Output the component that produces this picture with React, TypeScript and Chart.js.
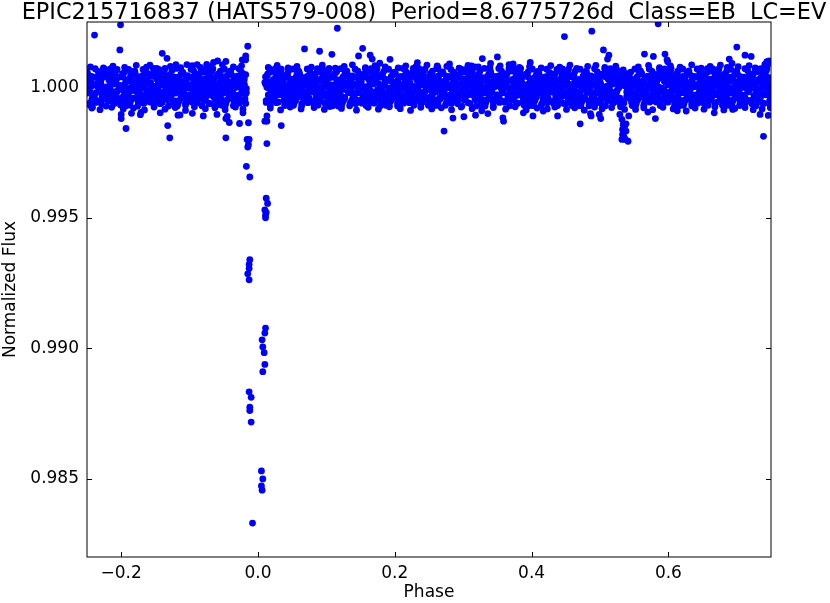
import React, { useEffect, useRef } from "react";
import { Chart, registerables } from "chart.js";

Chart.register(...registerables);

// Units: phase values are stored in thousandths of phase,
// flux values are stored as offsets from 1.0 in units of 1e-5.
const PHASE_UNIT = 0.001;
const FLUX_UNIT = 0.00001;

const titleText = "EPIC215716837 (HATS579-008)  Period=8.6775726d  Class=EB  LC=EV";
const xLabel = "Phase";
const yLabel = "Normalized Flux";
const xRange = [-0.25, 0.75];
const yRange = [0.982, 1.0025];
const xTicks = [-0.2, 0.0, 0.2, 0.4, 0.6];
const xTickLabels = ["\u22120.2", "0.0", "0.2", "0.4", "0.6"];
const yTicks = [0.985, 0.99, 0.995, 1.0];
const yTickLabels = ["0.985", "0.990", "0.995", "1.000"];

// Out-of-eclipse baseline band (first layer)
const bandPhase = [
  -250,-249,-247,-246,-244,-243,-241,
  -240,-238,-237,-235,-234,-232,-231,
  -230,-229,-227,-226,-224,-223,-221,
  -220,-218,-217,-215,-214,-212,-211,
  -210,-209,-207,-206,-204,-203,-201,
  -200,-198,-197,-195,-194,-192,-191,
  -190,-189,-187,-186,-184,-183,-181,
  -180,-178,-177,-175,-174,-172,-171,
  -170,-169,-167,-166,-164,-163,-161,
  -160,-158,-157,-155,-154,-152,-151,
  -150,-149,-147,-146,-144,-143,-141,
  -140,-138,-137,-135,-134,-132,-131,
  -130,-129,-127,-126,-124,-123,-121,
  -120,-118,-117,-115,-114,-112,-111,
  -110,-109,-107,-106,-104,-103,-101,
  -100,-98,-97,-95,-94,-92,-91,
  -90,-89,-87,-86,-84,-83,-81,
  -80,-78,-77,-75,-74,-72,-71,
  -70,-69,-67,-66,-64,-63,-61,
  -60,-58,-57,-55,-54,-52,-51,
  -50,-49,-47,-46,-44,-43,-41,
  -40,-38,-37,-35,-34,-32,-31,
  -30,-29,-27,-26,-24,-23,-21,
  -20,-19,-18,-17,
  10,12,13,15,16,18,19,
  20,21,23,24,26,27,29,
  30,32,33,35,36,38,39,
  40,41,43,44,46,47,49,
  50,52,53,55,56,58,59,
  60,61,63,64,66,67,69,
  70,72,73,75,76,78,79,
  80,81,83,84,86,87,89,
  90,92,93,95,96,98,99,
  100,101,103,104,106,107,109,
  110,112,113,115,116,118,119,
  120,121,123,124,126,127,129,
  130,132,133,135,136,138,139,
  140,141,143,144,146,147,149,
  150,152,153,155,156,158,159,
  160,161,163,164,166,167,169,
  170,172,173,175,176,178,179,
  180,181,183,184,186,187,189,
  190,192,193,195,196,198,199,
  200,201,203,204,206,207,209,
  210,212,213,215,216,218,219,
  220,221,223,224,226,227,229,
  230,232,233,235,236,238,239,
  240,241,243,244,246,247,249,
  250,252,253,255,256,258,259,
  260,261,263,264,266,267,269,
  270,272,273,275,276,278,279,
  280,281,283,284,286,287,289,
  290,292,293,295,296,298,299,
  300,301,303,304,306,307,309,
  310,312,313,315,316,318,319,
  320,321,323,324,326,327,329,
  330,332,333,335,336,338,339,
  340,341,343,344,346,347,349,
  350,352,353,355,356,358,359,
  360,361,363,364,366,367,369,
  370,372,373,375,376,378,379,
  380,381,383,384,386,387,389,
  390,392,393,395,396,398,399,
  400,401,403,404,406,407,409,
  410,412,413,415,416,418,419,
  420,421,423,424,426,427,429,
  430,432,433,435,436,438,439,
  440,441,443,444,446,447,449,
  450,452,453,455,456,458,459,
  460,461,463,464,466,467,469,
  470,472,473,475,476,478,479,
  480,481,483,484,486,487,489,
  490,492,493,495,496,498,499,
  500,501,503,504,506,507,509,
  510,512,513,515,516,518,519,
  520,521,523,524,526,527,529,
  530,531,533,535,537,539,539,
  540,542,543,545,546,548,549,
  550,551,553,554,556,557,559,
  560,562,563,565,566,568,569,
  570,571,573,574,576,577,579,
  580,582,583,585,586,588,589,
  590,591,593,594,596,597,599,
  600,602,603,605,606,608,609,
  610,611,613,614,616,617,619,
  620,622,623,625,626,628,629,
  630,631,633,634,636,637,639,
  640,642,643,645,646,648,649,
  650,651,653,654,656,657,659,
  660,662,663,665,666,668,669,
  670,671,673,674,676,677,679,
  680,682,683,685,686,688,689,
  690,691,693,694,696,697,699,
  700,702,703,705,706,708,709,
  710,711,713,714,716,717,719,
  720,722,723,725,726,728,729,
  730,731,733,734,736,737,739,
  740,742,743,745,746,748,749,
];
const bandFlux = [
  58,-22,17,-61,3,42,-37,
  -43,38,-58,4,61,-18,23,
  22,-63,37,-3,-42,57,-19,
  2,59,-41,18,-23,-57,43,
  -62,21,63,-17,38,-2,-44,
  41,-39,3,58,-61,24,-21,
  -18,-4,-59,44,19,-42,62,
  61,-17,23,-58,-3,38,-43,
  -38,44,-62,2,57,-23,18,
  18,-57,43,-4,-38,64,-22,
  -3,62,-37,22,-18,-63,38,
  -58,17,58,-23,43,4,-39,
  37,-43,-2,63,-57,18,-17,
  -22,3,-63,38,23,-38,58,
  57,-23,19,-62,2,44,-41,
  -42,37,-57,-3,63,-19,22,
  23,-59,38,3,-43,61,-18,
  4,57,-43,17,-22,-61,42,
  -63,18,62,-18,37,3,-38,
  43,-37,-3,62,-58,22,-23,
  -19,2,-61,42,18,-43,59,
  63,-18,22,-57,-2,41,-38,
  -37,43,-61,3,58,-22,17,
  12,-45,48,-20,
  19,-58,42,-2,-41,58,-23,
  3,61,-42,23,-17,-59,37,
  -57,23,59,-22,42,-3,-43,
  38,-42,2,57,-62,17,-18,
  -23,-2,-58,37,22,-37,63,
  59,-19,18,-63,4,37,-42,
  -41,42,-59,-2,59,-17,23,
  17,-62,37,2,-39,63,-21,
  -2,58,-38,19,-23,-62,41,
  -59,22,61,-19,39,2,-42,
  42,-38,-4,59,-59,19,-22,
  -17,4,-62,39,17,-41,61,
  62,-21,21,-59,-4,43,-39,
  -39,39,-63,4,62,-21,19,
  21,-61,39,-2,-37,59,-17,
  2,63,-39,21,-19,-58,39,
  -61,19,57,-21,41,-4,-37,
  39,-41,4,61,-63,21,-19,
  -21,-3,-57,41,21,-39,57,
  58,-18,17,-61,2,39,-43,
  -43,41,-61,2,61,-18,21,
  22,-59,41,-3,-42,62,-19,
  -4,59,-42,17,-21,-63,43,
  -58,21,63,-18,37,3,-41,
  41,-37,3,62,-61,18,-18,
  -18,3,-61,43,19,-43,58,
  59,-22,23,-62,-3,42,-37,
  -37,38,-62,3,58,-22,18,
  18,-63,42,4,-41,58,-22,
  3,58,-43,22,-18,-59,38,
  -62,17,58,-17,43,-2,-38,
  37,-39,-2,58,-58,23,-21,
  -19,2,-59,38,23,-42,62,
  61,-17,19,-58,3,41,-42,
  -42,43,-58,-3,62,-21,17,
  19,-58,38,3,-38,61,-23,
  -3,62,-41,18,-22,-61,42,
  -61,22,59,-23,38,2,-39,
  43,-43,2,59,-62,17,-17,
  -22,-2,-63,37,18,-38,61,
  58,-23,22,-63,4,38,-38,
  -38,41,-59,2,57,-19,22,
  23,-62,41,-4,-43,63,-18,
  -2,61,-38,19,-17,-62,37,
  -63,18,62,-19,42,-3,-43,
  38,-38,3,63,-59,21,-23,
  -17,4,-58,42,22,-41,59,
  62,-19,18,-57,-2,43,-41,
  -41,37,-63,4,59,-23,19,
  18,-61,43,-2,-39,57,-21,
  4,57,-39,22,-23,-58,41,
  -59,18,61,-22,39,-3,-42,
  40,10,55,30,45,15,-35,
  42,-41,-3,58,-57,19,-22,
  -23,3,-62,38,17,-37,63,
  57,-22,21,-61,3,37,-37,
  -37,42,-57,-4,61,-22,23,
  22,-57,37,2,-42,62,-17,
  -3,58,-42,23,-19,-57,39,
  -57,21,58,-17,37,2,-41,
  39,-37,4,62,-63,22,-19,
  -21,2,-59,41,19,-43,57,
  63,-18,17,-59,2,42,-43,
  -39,38,-61,3,57,-18,21,
  17,-59,42,4,-37,58,-22,
  2,62,-37,18,-21,-63,38,
  -58,23,57,-21,43,-2,-37,
  37,-42,2,61,-58,23,-23,
  -18,-3,-62,39,22,-39,62,
  59,-21,23,-58,-4,39,-42,
  -42,39,-58,2,63,-17,18,
  21,-63,38,3,-41,59,-19,
  -4,59,-43,21,-22,-59,42,
  -62,19,62,-23,38,3,-38,
];

// Out-of-eclipse baseline band (second layer, interleaved)
const band2Phase = [
  -249,-248,-246,-245,-243,-242,-241,
  -239,-238,-236,-235,-233,-232,-231,
  -229,-228,-226,-225,-223,-222,-221,
  -219,-218,-216,-215,-213,-212,-211,
  -209,-208,-206,-205,-203,-202,-201,
  -199,-198,-196,-195,-193,-192,-191,
  -189,-188,-186,-185,-183,-182,-181,
  -179,-178,-176,-175,-173,-172,-171,
  -169,-168,-166,-165,-163,-162,-161,
  -159,-158,-156,-155,-153,-152,-151,
  -149,-148,-146,-145,-143,-142,-141,
  -139,-138,-136,-135,-133,-132,-131,
  -129,-128,-126,-125,-123,-122,-121,
  -119,-118,-116,-115,-113,-112,-111,
  -109,-108,-106,-105,-103,-102,-101,
  -99,-98,-96,-95,-93,-92,-91,
  -89,-88,-86,-85,-83,-82,-81,
  -79,-78,-76,-75,-73,-72,-71,
  -69,-68,-66,-65,-63,-62,-61,
  -59,-58,-56,-55,-53,-52,-51,
  -49,-48,-46,-45,-43,-42,-41,
  -39,-38,-36,-35,-33,-32,-31,
  -29,-28,-26,-25,-23,-22,-21,
  -20,-18,-17,
  11,12,14,15,17,18,19,
  21,22,24,25,27,28,29,
  31,32,34,35,37,38,39,
  41,42,44,45,47,48,49,
  51,52,54,55,57,58,59,
  61,62,64,65,67,68,69,
  71,72,74,75,77,78,79,
  81,82,84,85,87,88,89,
  91,92,94,95,97,98,99,
  101,102,104,105,107,108,109,
  111,112,114,115,117,118,119,
  121,122,124,125,127,128,129,
  131,132,134,135,137,138,139,
  141,142,144,145,147,148,149,
  151,152,154,155,157,158,159,
  161,162,164,165,167,168,169,
  171,172,174,175,177,178,179,
  181,182,184,185,187,188,189,
  191,192,194,195,197,198,199,
  201,202,204,205,207,208,209,
  211,212,214,215,217,218,219,
  221,222,224,225,227,228,229,
  231,232,234,235,237,238,239,
  241,242,244,245,247,248,249,
  251,252,254,255,257,258,259,
  261,262,264,265,267,268,269,
  271,272,274,275,277,278,279,
  281,282,284,285,287,288,289,
  291,292,294,295,297,298,299,
  301,302,304,305,307,308,309,
  311,312,314,315,317,318,319,
  321,322,324,325,327,328,329,
  331,332,334,335,337,338,339,
  341,342,344,345,347,348,349,
  351,352,354,355,357,358,359,
  361,362,364,365,367,368,369,
  371,372,374,375,377,378,379,
  381,382,384,385,387,388,389,
  391,392,394,395,397,398,399,
  401,402,404,405,407,408,409,
  411,412,414,415,417,418,419,
  421,422,424,425,427,428,429,
  431,432,434,435,437,438,439,
  441,442,444,445,447,448,449,
  451,452,454,455,457,458,459,
  461,462,464,465,467,468,469,
  471,472,474,475,477,478,479,
  481,482,484,485,487,488,489,
  491,492,494,495,497,498,499,
  501,502,504,505,507,508,509,
  511,512,514,515,517,518,519,
  521,522,524,525,527,528,529,
  531,532,534,536,538,539,539,
  541,542,544,545,547,548,549,
  551,552,554,555,557,558,559,
  561,562,564,565,567,568,569,
  571,572,574,575,577,578,579,
  581,582,584,585,587,588,589,
  591,592,594,595,597,598,599,
  601,602,604,605,607,608,609,
  611,612,614,615,617,618,619,
  621,622,624,625,627,628,629,
  631,632,634,635,637,638,639,
  641,642,644,645,647,648,649,
  651,652,654,655,657,658,659,
  661,662,664,665,667,668,669,
  671,672,674,675,677,678,679,
  681,682,684,685,687,688,689,
  691,692,694,695,697,698,699,
  701,702,704,705,707,708,709,
  711,712,714,715,717,718,719,
  721,722,724,725,727,728,729,
  731,732,734,735,737,738,739,
  741,742,744,745,747,748,749,
];
const band2Flux = [
  52,-12,-68,28,-48,9,-31,
  -28,71,12,-52,31,-8,48,
  8,-48,52,-31,68,-72,-12,
  -52,28,-9,71,-28,48,12,
  32,-28,68,-12,8,-52,-68,
  -8,52,-32,12,-71,28,-48,
  68,-68,32,-48,52,-12,8,
  48,-8,-72,32,-52,12,-28,
  -32,68,8,-48,28,-12,52,
  12,-52,48,-28,72,-68,-8,
  -48,32,-12,68,-32,52,8,
  28,-32,72,-8,12,-48,-72,
  -12,48,-28,8,-68,32,-52,
  72,-72,28,-52,48,-8,12,
  51,-11,-69,29,-49,11,-29,
  -29,69,11,-51,29,-11,51,
  11,-49,49,-29,69,-71,-11,
  -51,31,-11,69,-29,49,11,
  29,-31,71,-11,11,-49,-69,
  -11,51,-29,9,-69,29,-51,
  69,-71,29,-49,51,-9,11,
  49,-9,-71,31,-51,9,-31,
  -31,71,9,-49,31,-9,49,
  30,-62,-5,
  12,-51,50,-29,70,-69,-10,
  -49,29,-10,70,-31,51,10,
  31,-29,69,-10,10,-51,-70,
  -10,49,-31,11,-70,31,-49,
  70,-69,31,-51,49,-11,9,
  50,-10,-70,30,-50,10,-30,
  -30,70,10,-50,30,-10,50,
  9,-52,51,-32,71,-68,-9,
  -52,32,-9,68,-28,52,9,
  28,-31,72,-9,9,-52,-71,
  -9,51,-28,12,-72,28,-52,
  71,-71,28,-52,51,-9,12,
  49,-12,-71,28,-51,12,-32,
  -32,69,12,-49,32,-12,49,
  10,-50,49,-31,71,-70,-12,
  -50,30,-12,71,-30,50,12,
  30,-30,71,-9,12,-50,-71,
  -12,50,-30,10,-69,30,-50,
  69,-70,30,-50,50,-12,10,
  51,-9,-72,29,-49,10,-28,
  -28,72,9,-52,29,-9,52,
  12,-49,51,-28,72,-69,-9,
  -51,28,-9,72,-32,49,9,
  32,-32,69,-12,9,-49,-69,
  -9,52,-32,9,-71,32,-48,
  71,-69,32,-48,52,-11,11,
  52,-11,-69,31,-48,11,-31,
  -31,68,11,-48,31,-11,48,
  9,-48,48,-32,69,-72,-11,
  -48,31,-11,69,-29,48,11,
  29,-28,70,-11,11,-48,-72,
  -11,48,-29,11,-72,29,-48,
  72,-72,29,-48,48,-10,11,
  48,-10,-72,29,-52,9,-29,
  -29,72,9,-52,28,-10,52,
  11,-52,52,-30,72,-71,-10,
  -49,30,-12,69,-31,51,10,
  30,-30,72,-10,10,-51,-69,
  -10,50,-30,12,-70,31,-51,
  70,-70,31,-51,50,-9,9,
  50,-9,-70,32,-50,11,-31,
  -30,69,10,-51,29,-12,51,
  10,-51,51,-30,68,-70,-9,
  -50,29,-10,70,-32,50,10,
  31,-31,69,-9,11,-50,-70,
  -12,49,-31,10,-71,30,-49,
  69,-71,30,-49,49,-10,12,
  51,-12,-71,30,-49,12,-30,
  -31,71,12,-49,30,-9,50,
  12,-50,50,-31,70,-71,-12,
  -51,31,-9,71,-30,49,12,
  29,-29,70,-12,12,-51,-60,
  60,22,66,6,36,52,-18,
  -10,50,-30,10,-70,30,-50,
  70,-70,30,-50,50,-10,10,
  52,-9,-69,30,-52,10,-32,
  -32,70,10,-50,32,-10,49,
  9,-49,49,-28,70,-70,-10,
  -49,32,-10,70,-29,50,10,
  30,-31,71,-10,9,-49,-70,
  -10,51,-31,11,-70,31,-50,
  70,-69,31,-49,51,-11,9,
  50,-11,-71,31,-49,11,-30,
  -29,70,11,-51,31,-11,51,
  11,-51,49,-29,71,-69,-11,
  -50,31,-11,70,-29,51,11,
  31,-30,70,-11,11,-50,-69,
  -11,50,-30,9,-69,29,-50,
  69,-70,29,-50,51,-10,10,
  49,-10,-70,29,-50,10,-31,
  -30,71,10,-49,29,-10,50,
  10,-49,51,-31,69,-71,-10,
  -49,30,-10,71,-31,49,10,
  30,-29,71,-11,10,-51,-70,
];

// Dense core of the band (third layer)
const corePhase = [
  -250,-248,-246,-244,-242,
  -239,-237,-235,-233,-231,
  -230,-228,-226,-224,-222,
  -219,-217,-215,-213,-211,
  -210,-208,-206,-204,-202,
  -199,-197,-195,-193,-191,
  -190,-188,-186,-184,-182,
  -179,-177,-175,-173,-171,
  -170,-168,-166,-164,-162,
  -159,-157,-155,-153,-151,
  -150,-148,-146,-144,-142,
  -139,-137,-135,-133,-131,
  -130,-128,-126,-124,-122,
  -119,-117,-115,-113,-111,
  -110,-108,-106,-104,-102,
  -99,-97,-95,-93,-91,
  -90,-88,-86,-84,-82,
  -79,-77,-75,-73,-71,
  -70,-68,-66,-64,-62,
  -59,-57,-55,-53,-51,
  -50,-48,-46,-44,-42,
  -39,-37,-35,-33,-31,
  -30,-28,-26,-24,-22,
  -20,-18,
  11,13,15,17,19,
  20,22,24,26,28,
  31,33,35,37,39,
  40,42,44,46,48,
  51,53,55,57,59,
  60,62,64,66,68,
  71,73,75,77,79,
  80,82,84,86,88,
  91,93,95,97,99,
  100,102,104,106,108,
  111,113,115,117,119,
  120,122,124,126,128,
  131,133,135,137,139,
  140,142,144,146,148,
  151,153,155,157,159,
  160,162,164,166,168,
  171,173,175,177,179,
  180,182,184,186,188,
  191,193,195,197,199,
  200,202,204,206,208,
  211,213,215,217,219,
  220,222,224,226,228,
  231,233,235,237,239,
  240,242,244,246,248,
  251,253,255,257,259,
  260,262,264,266,268,
  271,273,275,277,279,
  280,282,284,286,288,
  291,293,295,297,299,
  300,302,304,306,308,
  311,313,315,317,319,
  320,322,324,326,328,
  331,333,335,337,339,
  340,342,344,346,348,
  351,353,355,357,359,
  360,362,364,366,368,
  371,373,375,377,379,
  380,382,384,386,388,
  391,393,395,397,399,
  400,402,404,406,408,
  411,413,415,417,419,
  420,422,424,426,428,
  431,433,435,437,439,
  440,442,444,446,448,
  451,453,455,457,459,
  460,462,464,466,468,
  471,473,475,477,479,
  480,482,484,486,488,
  491,493,495,497,499,
  500,502,504,506,508,
  511,513,515,517,519,
  520,522,524,526,528,
  531,533,535,537,539,
  541,543,545,547,549,
  550,552,554,556,558,
  561,563,565,567,569,
  570,572,574,576,578,
  581,583,585,587,589,
  590,592,594,596,598,
  601,603,605,607,609,
  610,612,614,616,618,
  621,623,625,627,629,
  630,632,634,636,638,
  641,643,645,647,649,
  650,652,654,656,658,
  661,663,665,667,669,
  670,672,674,676,678,
  681,683,685,687,689,
  690,692,694,696,698,
  701,703,705,707,709,
  710,712,714,716,718,
  721,723,725,727,729,
  730,732,734,736,738,
  741,743,745,747,749,
];
const coreFlux = [
  2,41,-18,22,-39,
  -42,-21,38,3,19,
  21,-38,-2,-19,42,
  39,2,18,-41,-22,
  -18,22,-42,38,-3,
  -3,38,-22,19,-42,
  -38,-18,42,2,21,
  18,-42,3,-21,38,
  42,-2,22,-38,-18,
  -22,18,-38,42,2,
  3,42,-19,18,-41,
  -41,-22,39,-2,22,
  22,-39,2,-22,39,
  38,3,19,-42,-19,
  -19,21,-41,39,-2,
  -2,39,-21,21,-38,
  -39,-19,41,3,18,
  19,-41,-3,-18,41,
  41,-3,21,-39,-21,
  -21,19,-39,41,3,
  1,40,-20,20,-40,
  -40,-20,40,0,20,
  20,-40,0,-20,40,
  5,-25,
  40,0,20,-40,-20,
  -20,20,-40,40,0,
  2,41,-18,22,-39,
  -42,-21,38,3,19,
  21,-38,-2,-19,42,
  39,2,18,-41,-22,
  -18,22,-42,38,-3,
  -3,38,-22,19,-42,
  -38,-18,42,2,21,
  18,-42,3,-21,38,
  42,-2,22,-38,-18,
  -22,18,-38,42,2,
  3,42,-19,18,-41,
  -41,-22,39,-2,22,
  22,-39,2,-22,39,
  38,3,19,-42,-19,
  -19,21,-41,39,-2,
  -2,39,-21,21,-38,
  -39,-19,41,3,18,
  19,-41,-3,-18,41,
  41,-3,21,-39,-21,
  -21,19,-39,41,3,
  1,40,-20,20,-40,
  -40,-20,40,0,20,
  20,-40,0,-20,40,
  40,0,20,-40,-20,
  -20,20,-40,40,0,
  2,41,-18,22,-39,
  -42,-21,38,3,19,
  21,-38,-2,-19,42,
  39,2,18,-41,-22,
  -18,22,-42,38,-3,
  -3,38,-22,19,-42,
  -38,-18,42,2,21,
  18,-42,3,-21,38,
  42,-2,22,-38,-18,
  -22,18,-38,42,2,
  3,42,-19,18,-41,
  -41,-22,39,-2,22,
  22,-39,2,-22,39,
  38,3,19,-42,-19,
  -19,21,-41,39,-2,
  -2,39,-21,21,-38,
  -39,-19,41,3,18,
  19,-41,-3,-18,41,
  41,-3,21,-39,-21,
  -21,19,-39,41,3,
  1,40,-20,20,-40,
  -40,-20,40,0,20,
  20,-40,0,-20,40,
  40,0,20,-40,-20,
  -20,20,-40,40,0,
  25,45,20,50,30,
  2,41,-18,22,-39,
  -42,-21,38,3,19,
  21,-38,-2,-19,42,
  39,2,18,-41,-22,
  -18,22,-42,38,-3,
  -3,38,-22,19,-42,
  -38,-18,42,2,21,
  18,-42,3,-21,38,
  42,-2,22,-38,-18,
  -22,18,-38,42,2,
  3,42,-19,18,-41,
  -41,-22,39,-2,22,
  22,-39,2,-22,39,
  38,3,19,-42,-19,
  -19,21,-41,39,-2,
  -2,39,-21,21,-38,
  -39,-19,41,3,18,
  19,-41,-3,-18,41,
  41,-3,21,-39,-21,
  -21,19,-39,41,3,
  1,40,-20,20,-40,
];

// Ragged upper and lower edges of the band
const edgePhase = [
  -245,-226,-212,-195,-178,-163,-148,-128,-113,-96,-84,-68,-52,-36,-24,
  15,28,44,57,78,94,113,126,138,157,171,186,205,216,231,247,263,276,294,307,
  322,339,354,367,382,397,414,428,441,456,466,482,494,507,523,556,571,587,603,
  617,634,648,661,676,686,702,718,727,741,748,744,
  -243,-231,-214,-197,-182,-166,-152,-136,-121,-106,-93,-77,-63,-48,-33,-22,
  18,33,47,63,82,97,105,122,144,161,176,192,208,223,238,254,268,283,297,313,
  327,344,362,376,392,408,423,434,451,463,477,492,503,517,552,564,577,592,607,
  613,639,652,668,681,697,712,724,737,749,
];
const edgeFlux = [
  78,74,81,76,84,77,72,80,75,83,76,79,86,78,82,
  76,84,74,80,77,85,73,80,86,75,83,78,74,82,79,85,76,80,73,84,
  78,75,82,87,76,79,74,83,77,85,72,80,84,76,81,78,84,75,82,
  77,86,73,80,85,76,79,83,74,88,92,98,
  -80,-86,-77,-83,-80,-87,-76,-84,-78,-89,-75,-82,-79,-86,-76,-84,
  -80,-87,-76,-83,-78,-85,-74,-81,-88,-77,-84,-75,-82,-89,-77,-83,-79,-86,-76,-82,
  -90,-78,-84,-75,-87,-80,-83,-76,-85,-79,-88,-76,-82,-78,-85,-79,-86,-77,-83,
  -90,-80,-84,-76,-87,-81,-78,-86,-83,-79,
];

// Scattered outliers above and below the band
const outlierPhase = [
  -239,-201,-202,-140,-133,-158,-120,-104,-89,-75,-65,-59,-47,-23,-18,-15,-18,
  68,90,108,116,147,153,164,167,178,193,233,262,280,312,317,328,340,350,373,398,
  448,488,505,513,511,565,578,585,595,598,599,689,693,700,712,721,747,745,
  -242,-200,-200,-193,-185,-171,-132,-129,-117,-172,-143,-114,-96,-80,-60,-45,-22,
  272,285,301,318,336,358,359,388,402,417,438,471,486,487,499,501,570,581,626,
  667,694,734,739,746,
];
const outlierFlux = [
  200,239,143,130,111,85,87,87,87,88,95,101,99,105,105,157,120,
  147,138,126,226,120,149,123,108,92,107,94,82,89,82,78,110,91,116,89,95,
  194,215,143,123,108,127,118,243,127,105,98,108,91,154,123,118,101,89,
  -77,-104,-120,-158,-100,-96,-147,-194,-107,-105,-98,-106,-100,-110,-104,-112,-98,
  -168,-118,-113,-107,-101,-117,-130,-98,-110,-91,-110,-140,-101,-110,-104,-120,-95,-120,-91,
  -98,-85,-104,-188,-108,
];

// Primary eclipse (phase ~ 0)
const primaryPhase = [
  -47,-47,-42,-27,-14,13,34,10,13,
  -16,-13,-14,-15,13,
  -17,-12,
  12,14,10,11,11,12,
  -12,-13,-13,-15,-13,
  11,10,6,7,9,10,7,
  -13,-10,-12,-12,-10,
  5,7,5,6,
  -8,
];
const primaryFlux = [
  -194,-120,-135,-139,-136,-130,-147,-130,-110,
  -200,-200,-220,-229,-216,
  -303,-344,
  -425,-445,-470,-490,-500,-480,
  -661,-679,-695,-715,-738,
  -923,-942,-968,-995,-1017,-1062,-1090,
  -1167,-1188,-1226,-1239,-1283,
  -1470,-1501,-1528,-1544,
  -1670,
];

// Secondary eclipse (phase ~ 0.535)
const secondaryPhase = [
  529,532,534,536,533,538,533,532,537,541,535,538,542,535,540,531,536,530,
];
const secondaryFlux = [
  -104,-123,-143,-149,-162,-168,-181,-200,-200,-207,-190,-140,-110,-60,-40,-50,-85,-75,
];

const FONT = '"DejaVu Sans", "Liberation Sans", sans-serif';
const POINT_COLOR = "#0000ff";

function toPoints(ph: number[], fl: number[]) {
  const n = Math.min(ph.length, fl.length);
  const out: { x: number; y: number }[] = [];
  for (let i = 0; i < n; i++) out.push({ x: ph[i] * PHASE_UNIT, y: 1 + fl[i] * FLUX_UNIT });
  return out;
}

function labelFor(v: number, ticks: number[], labels: string[]) {
  for (let i = 0; i < ticks.length; i++) if (Math.abs(ticks[i] - v) < 1e-9) return labels[i];
  return "";
}

const framePlugin = {
  id: "mplFrame",
  afterDatasetsDraw(chart: any) {
    const { ctx, chartArea: a, scales } = chart;
    ctx.save();
    ctx.strokeStyle = "#000";
    ctx.lineWidth = 1;
    ctx.strokeRect(a.left, a.top, a.right - a.left, a.bottom - a.top);
    const L = 5;
    ctx.beginPath();
    for (const v of xTicks) {
      const px = Math.round(scales.x.getPixelForValue(v)) + 0.5;
      ctx.moveTo(px, a.bottom);
      ctx.lineTo(px, a.bottom - L);
      ctx.moveTo(px, a.top);
      ctx.lineTo(px, a.top + L);
    }
    for (const v of yTicks) {
      const py = Math.round(scales.y.getPixelForValue(v)) + 0.5;
      ctx.moveTo(a.left, py);
      ctx.lineTo(a.left + L, py);
      ctx.moveTo(a.right, py);
      ctx.lineTo(a.right - L, py);
    }
    ctx.stroke();
    ctx.restore();
  },
  afterDraw(chart: any) {
    const { ctx } = chart;
    ctx.save();
    ctx.fillStyle = "#000";
    ctx.font = `22.4px ${FONT}`;
    ctx.textAlign = "center";
    ctx.textBaseline = "alphabetic";
    ctx.fillText(titleText, 424, 19);
    ctx.restore();
  },
};

export default function App() {
  const canvasRef = useRef<HTMLCanvasElement | null>(null);

  useEffect(() => {
    document.body.style.margin = "0";
    const canvas = canvasRef.current;
    if (!canvas) return;
    const ds = (data: any[]) => ({
      data,
      backgroundColor: POINT_COLOR,
      borderColor: POINT_COLOR,
      borderWidth: 0,
      pointRadius: 3.4,
      pointHoverRadius: 3.4,
      showLine: false,
      clip: 0,
    });
    const chart = new Chart(canvas, {
      type: "scatter",
      data: {
        datasets: [
          ds(toPoints(bandPhase, bandFlux)),
          ds(toPoints(band2Phase, band2Flux)),
          ds(toPoints(corePhase, coreFlux)),
          ds(toPoints(edgePhase, edgeFlux)),
          ds(toPoints(outlierPhase, outlierFlux)),
          ds(toPoints(primaryPhase, primaryFlux)),
          ds(toPoints(secondaryPhase, secondaryFlux)),
        ],
      },
      options: {
        animation: false,
        responsive: false,
        events: [],
        layout: { padding: { top: 22, right: 59, bottom: 0, left: 0 } },
        plugins: {
          legend: { display: false },
          title: { display: false },
          tooltip: { enabled: false },
        },
        scales: {
          x: {
            type: "linear",
            min: xRange[0],
            max: xRange[1],
            afterBuildTicks: (s: any) => {
              s.ticks = xTicks.map((v) => ({ value: v }));
            },
            afterFit: (s: any) => {
              s.height = 46;
            },
            grid: { display: false, drawTicks: false },
            border: { display: false },
            ticks: {
              autoSkip: false,
              maxRotation: 0,
              padding: 6,
              color: "#000",
              font: { family: FONT, size: 17 },
              callback: (v: any) => labelFor(Number(v), xTicks, xTickLabels),
            },
            title: {
              display: true,
              text: xLabel,
              color: "#000",
              font: { family: FONT, size: 17 },
              padding: 0,
            },
          },
          y: {
            type: "linear",
            min: yRange[0],
            max: yRange[1],
            afterBuildTicks: (s: any) => {
              s.ticks = yTicks.map((v) => ({ value: v }));
            },
            afterFit: (s: any) => {
              s.width = 87;
            },
            grid: { display: false, drawTicks: false },
            border: { display: false },
            ticks: {
              autoSkip: false,
              padding: 8,
              color: "#000",
              font: { family: FONT, size: 17 },
              callback: (v: any) => labelFor(Number(v), yTicks, yTickLabels),
            },
            title: {
              display: true,
              text: yLabel,
              color: "#000",
              font: { family: FONT, size: 17 },
              padding: 0,
            },
          },
        },
      },
      plugins: [framePlugin],
    } as any);
    return () => chart.destroy();
  }, []);

  return <canvas ref={canvasRef} width={830} height={603} style={{ display: "block" }} />;
}
